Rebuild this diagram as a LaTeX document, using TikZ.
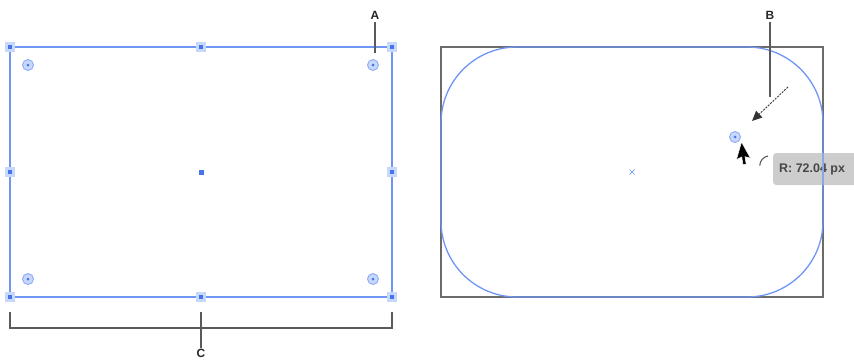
\documentclass[tikz,border=0pt]{standalone}
\usepackage{fontspec}
\setmainfont{Liberation Sans}
\usetikzlibrary{arrows.meta}
\definecolor{selblue}{RGB}{112,150,245}
\definecolor{handleblue}{RGB}{70,115,240}
\definecolor{handlebg}{RGB}{200,215,252}
\definecolor{linegray}{RGB}{90,90,90}
\definecolor{tipgray}{RGB}{205,205,205}
\tikzset{
  selline/.style={draw=selblue, line width=1.3pt},
  handle/.style={draw=none, fill=handlebg, minimum size=10bp, inner sep=0pt,
    path picture={\fill[handleblue] ([shift={(-2.3bp,-2.3bp)}]path picture bounding box.center) rectangle ([shift={(2.3bp,2.3bp)}]path picture bounding box.center);}},
  widget/.style={circle, draw=selblue!80, fill=handlebg, line width=0.9pt, minimum size=11bp, inner sep=0pt,
    path picture={\fill[handleblue] (path picture bounding box.center) circle (1.5bp);}},
  callout/.style={draw=linegray, line width=1.2pt},
  lbl/.style={font=\fontsize{12}{14}\selectfont\bfseries, text=black!85, inner sep=1pt},
}
\begin{document}
\begin{tikzpicture}[x=1bp,y=-1bp]
\useasboundingbox (0,0) rectangle (854,360);
% ---- left rectangle ----
\coordinate (LTL) at (10,47);
\coordinate (LBR) at (392,297);
\draw[selline] (LTL) rectangle (LBR);
\foreach \n/\x/\y in {h1/10/47,h2/201/47,h3/392/47,h4/10/172,h5/392/172,h6/10/297,h7/201/297,h8/392/297}
  \node[handle] (\n) at (\x,\y) {};
\node[fill=handleblue, minimum size=5bp, inner sep=0pt] (lc) at (201,172) {};
\foreach \n/\x/\y in {w1/28/65,w2/373/65,w3/28/279,w4/373/279}
  \node[widget] (\n) at (\x,\y) {};
% label A
\node[lbl] (A) at (375,15) {A};
\coordinate (Aend) at (375,53);
\draw[callout] (A.south) ++(0,2) -- (Aend);
% bracket C
\coordinate (cl1) at (10,312);
\coordinate (cl2) at (10,328);
\coordinate (cr1) at (392,312);
\coordinate (cr2) at (392,328);
\coordinate (cm1) at (201,312);
\draw[callout] (cl1) -- (cl2) -- (cr2) -- (cr1);
\node[lbl, anchor=north] (C) at (201,348) {C};
\draw[callout] (cm1) -- (C.north);
% ---- right rectangle ----
\draw[draw=linegray!90, line width=1.3pt] (441,47) rectangle (823,297);
\draw[selline, rounded corners=76bp] (441,47) rectangle (823,297);
\node[inner sep=0pt, minimum size=5bp] (rc) at (632,172) {};
\draw[selblue, line width=0.7pt] (629.5,169.5) -- (634.5,174.5) (629.5,174.5) -- (634.5,169.5);
\node[widget] (rw) at (735,137) {};
% label B
\node[lbl] (B) at (770,15) {B};
\coordinate (Bend) at (770,97);
\draw[callout] (B.south) ++(0,2) -- (Bend);
\coordinate (arrS) at (788,87);
\coordinate (arrE) at (752,121);
\draw[black!80, dashed, dash pattern=on 2bp off 1.2bp, line width=0.9pt, -{Triangle[length=10bp,width=9bp]}] (arrS) -- (arrE);
% cursor
\begin{scope}[shift={(741.5,142)}, rotate=-16, scale=1.15]
\draw[fill=black, draw=white, line width=0.5pt, line join=round]
  (0,0) -- (0,16) -- (3.8,12.4) -- (6.6,18.6) -- (9.2,17.4) -- (6.4,11.4) -- (11.4,11.4) -- cycle;
\end{scope}
% tooltip
\node[fill=tipgray, rounded corners=3bp, anchor=west, minimum height=32bp, minimum width=90bp, inner sep=0pt] (tip) at (773,169) {};
\coordinate (seeT) at (823,153);
\coordinate (seeB) at (823,185);
\node[anchor=west, inner xsep=6bp, font=\fontsize{12.5}{14}\selectfont\bfseries, text=black!72] (tiptext) at (tip.west) {R: 72.04 px};
\draw[selblue!70!tipgray, line width=1.2pt] (seeT) -- (seeB);
\draw[black!65, line width=1.1pt] (768,156) arc[start angle=100, end angle=178, radius=10bp];
\end{tikzpicture}
\end{document}
